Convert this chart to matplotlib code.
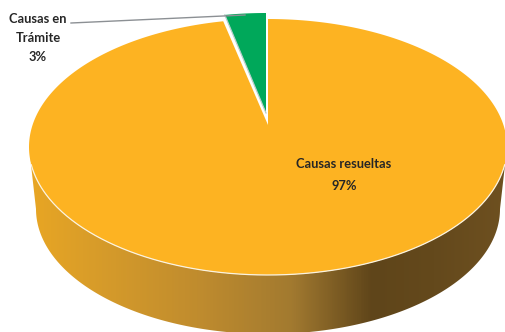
"""Exploded 3D-look pie of causas resueltas vs. causas en tramite."""

import numpy as np
import matplotlib.pyplot as plt
from matplotlib.colors import LinearSegmentedColormap
from matplotlib.patches import Polygon

labels = ["Causas resueltas", "Causas en\nTrámite"]
values = [97, 3]
slice_colors = ["#FDB322", "#00A85A"]

# side wall shading, left to right across the picture
wall_stops = [0.0, 0.15, 0.35, 0.55, 0.72, 0.85, 1.0]
wall_colors = ["#E8A624", "#D69B2A", "#C08C2E", "#A27A30", "#5F451A", "#64491C", "#6E5020"]

CX, CY, RX, RY = 268, 147, 239, 128
APEX_Y = 125


def rim(start_deg, end_deg, cx=CX, cy=CY, rx=RX, ry=RY):
    # angles clockwise from the top of the ellipse
    a = np.radians(np.linspace(start_deg, end_deg, 300))
    return np.column_stack([cx + rx * np.sin(a), cy - ry * np.cos(a)])


def main() -> None:
    plt.rcParams["font.family"] = ["Lato", "DejaVu Sans"]
    fig = plt.figure(figsize=(5.05, 3.32), dpi=100)
    ax = fig.add_axes([0, 0, 1, 1])
    ax.set_xlim(0, 505)
    ax.set_ylim(332, 0)
    ax.axis("off")

    # side wall
    top_edge = rim(90, 270)
    bottom_edge = rim(270, 90, cy=209, rx=232, ry=125)
    wall = Polygon(np.vstack([top_edge, bottom_edge]), closed=True, fc="none", ec="none")
    ax.add_patch(wall)
    cmap = LinearSegmentedColormap.from_list("wall", list(zip(wall_stops, wall_colors)))
    img = ax.imshow(
        np.linspace(0, 1, 480).reshape(1, -1),
        cmap=cmap,
        extent=(30, 506, 334, 140),
        aspect="auto",
        zorder=1,
    )
    img.set_clip_path(wall)
    ax.set_xlim(0, 505)
    ax.set_ylim(332, 0)

    # top face, slices measured clockwise from the top, green one ends at 0
    big_sweep = values[0] / sum(values) * 360
    small_sweep = values[1] / sum(values) * 360
    big = np.vstack([[CX, APEX_Y], rim(0, big_sweep)])
    ax.add_patch(Polygon(big, closed=True, fc=slice_colors[0], ec="none", zorder=2))
    lower_rim = rim(98, 262)
    ax.plot(lower_rim[:, 0], lower_rim[:, 1], color="#FBF3E0", lw=0.9, zorder=2.5)

    small = np.vstack(
        [[CX - 2, APEX_Y - 12], rim(-small_sweep * 0.92, 0, cx=CX - 2, cy=CY - 6)]
    )
    ax.add_patch(Polygon(small, closed=True, fc=slice_colors[1], ec="none", zorder=3))
    ax.plot(
        [small[0, 0], small[1, 0]], [small[0, 1], small[1, 1]],
        color="#B9CFCB", lw=0.9, zorder=3.5,
    )

    # labels
    ax.plot([71, 245], [23, 15], color="#8C9094", lw=1.0, zorder=4)
    text_style = dict(ha="center", va="center", fontsize=9.3, fontweight="bold",
                      color="#262626", zorder=5)
    ax.text(344, 175, f"{labels[0]}\n{values[0]}%", linespacing=1.95, **text_style)
    ax.text(38, 38, f"{labels[1]}\n{values[1]}%", linespacing=1.68, **text_style)

    fig.savefig("out.png", dpi=100)
    plt.close(fig)


if __name__ == "__main__":
    main()
